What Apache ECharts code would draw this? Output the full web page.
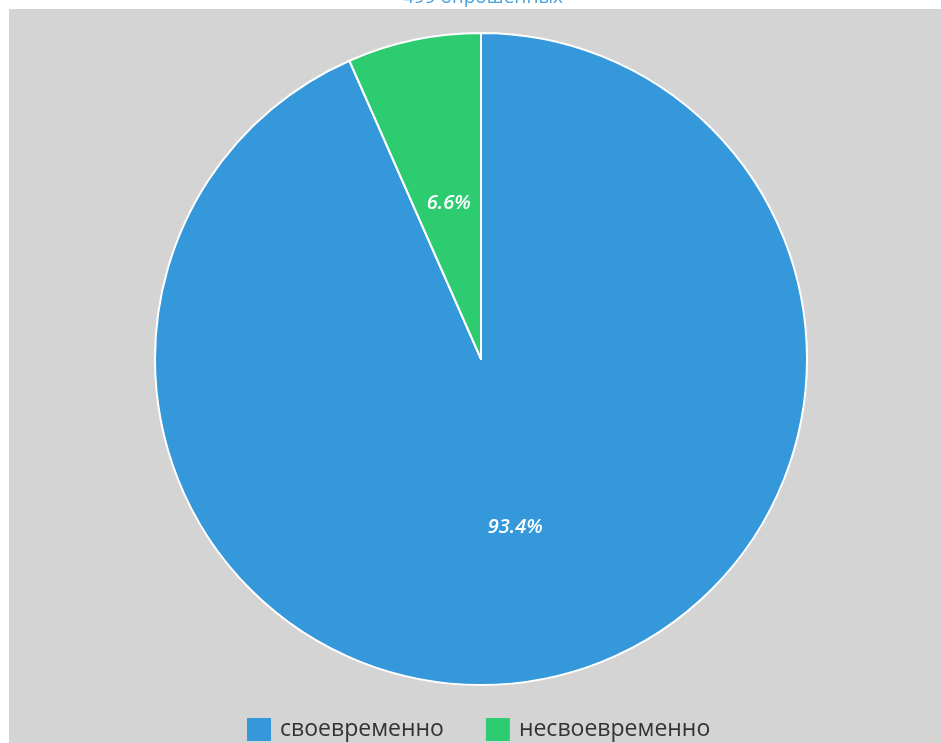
<!DOCTYPE html>
<html>
<head>
<meta charset="utf-8">
<script src="https://cdn.jsdelivr.net/npm/echarts@6/dist/echarts.min.js"></script>
<style>
html,body{margin:0;padding:0;background:#fff;}
#c{width:941px;height:743px;}
</style>
</head>
<body>
<div id="c"></div>
<script>
var titleText = '499 опрошенных';
var categories = ['своевременно', 'несвоевременно'];
var values = [466, 33];
var colors = ['#3498db', '#2ecc71'];
var labelOffsets = [[0, 6], [2, 7]];

var chart = echarts.init(document.getElementById('c'));
chart.setOption({
  backgroundColor: '#ffffff',
  graphic: [{
    type: 'rect', z: -10, silent: true,
    shape: {x: 9, y: 9, width: 932, height: 734},
    style: {fill: '#d4d4d4'}
  }],
  title: {
    text: titleText, left: 398, top: -17,
    textStyle: {color: '#4aa3df', fontSize: 19, fontWeight: 'normal', fontFamily: 'Open Sans'}
  },
  legend: {
    bottom: -3, left: 242,
    itemWidth: 24, itemHeight: 23, itemGap: 42,
    icon: 'rect',
    itemStyle: {borderWidth: 0},
    textStyle: {color: '#333', fontSize: 23, fontFamily: 'Open Sans', padding: [0, 0, 0, 4]},
    data: categories
  },
  series: [{
    type: 'pie',
    center: [481, 359],
    radius: 326,
    startAngle: 90,
    clockwise: true,
    avoidLabelOverlap: false,
    itemStyle: {borderColor: '#ffffff', borderWidth: 2},
    label: {
      show: true, position: 'inside',
      formatter: function (p) { return p.percent.toFixed(1) + '%'; },
      color: '#ffffff', fontSize: 20, fontStyle: 'italic', fontWeight: 600, fontFamily: 'Open Sans'
    },
    labelLine: {show: false},
    emphasis: {disabled: true},
    data: categories.map(function (n, i) {
      return {name: n, value: values[i], itemStyle: {color: colors[i]}, label: {offset: labelOffsets[i]}};
    })
  }]
});
</script>
</body>
</html>
